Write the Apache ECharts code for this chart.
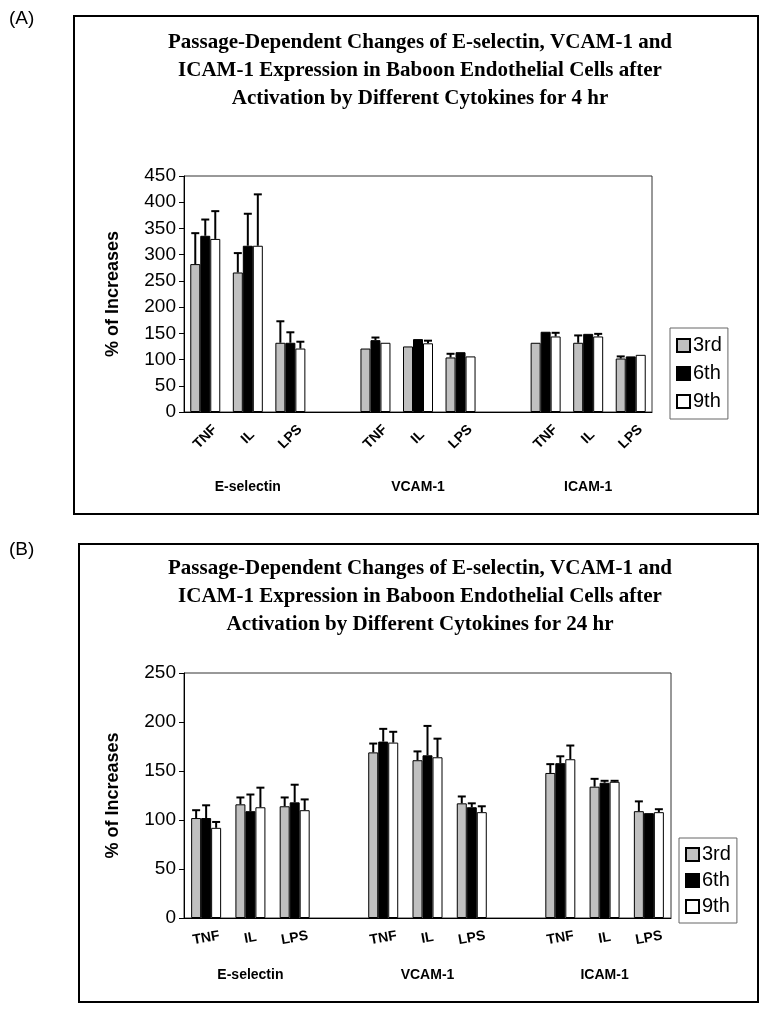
<!DOCTYPE html>
<html>
<head>
<meta charset="utf-8">
<script src="https://cdn.jsdelivr.net/npm/echarts@6/dist/echarts.min.js"></script>
<style>
html,body{margin:0;padding:0;background:#fff;}
#c{width:769px;height:1012px;}
</style>
</head>
<body>
<div id="c"></div>
<script>
// ---- data ----
const categories = ['TNF','IL','LPS','','TNF','IL','LPS','','TNF','IL','LPS'];
const geneLabels = ['','E-selectin','','','','VCAM-1','','','','ICAM-1',''];
const passages = ['3rd','6th','9th'];
const titleA = 'Passage-Dependent Changes of E-selectin, VCAM-1 and\nICAM-1 Expression in Baboon Endothelial Cells after\nActivation by Different Cytokines for 4 hr';
const titleB = 'Passage-Dependent Changes of E-selectin, VCAM-1 and\nICAM-1 Expression in Baboon Endothelial Cells after\nActivation by Different Cytokines for 24 hr';
const yName = '% of Increases';

// Panel A (4 hr): bar means and upper ends of error bars
const a3rd    = [282, 266, 132, null, 121, 125, 104, null, 132, 132, 102];
const a3rdUp  = [341, 303, 173, null, 121, 125, 111, null, 132, 146, 106];
const a6th    = [336, 317, 132, null, 137, 139, 114, null, 153, 149, 106];
const a6thUp  = [367, 378, 152, null, 142, 139, 114, null, 153, 149, 106];
const a9th    = [330, 317, 121, null, 132, 131, 106, null, 144, 144, 109];
const a9thUp  = [383, 415, 134, null, 132, 136, 106, null, 151, 149, 109];

// Panel B (24 hr)
const b3rd    = [102, 116, 114, null, 169, 161, 117, null, 148, 134, 109];
const b3rdUp  = [110, 123, 123, null, 178, 170, 124, null, 157, 142, 119];
const b6th    = [102, 109, 118, null, 180, 166, 113, null, 158, 138, 107];
const b6thUp  = [115, 126, 136, null, 193, 196, 117, null, 165, 140, 107];
const b9th    = [ 92, 113, 110, null, 179, 164, 108, null, 162, 139, 108];
const b9thUp  = [ 98, 133, 121, null, 190, 183, 114, null, 176, 140, 111];

// ---- styling ----
const fills = ['#c0c0c0', '#000000', '#ffffff'];
const BW = 10;

function barSeries(name, vals, k, axisIdx) {
  return {
    name: name, type: 'bar', xAxisIndex: axisIdx * 2, yAxisIndex: axisIdx,
    data: vals.map(v => v == null ? '-' : v),
    barWidth: BW, barGap: '0%',
    itemStyle: { color: fills[k], borderColor: '#000', borderWidth: 1 },
    emphasis: { disabled: true }, animation: false
  };
}
function errSeries(vals, ups, k, axisIdx) {
  const data = [];
  vals.forEach((v, i) => { if (v != null) data.push([i, v, ups[i]]); });
  const off = (k - 1) * BW;
  return {
    type: 'custom', xAxisIndex: axisIdx * 2, yAxisIndex: axisIdx, z: 5,
    data: data, encode: { x: 0, y: 1 }, animation: false, silent: true,
    renderItem: function (params, api) {
      const i = api.value(0), m = api.value(1), u = api.value(2);
      if (!(u > m)) return null;
      const p0 = api.coord([i, m]), p1 = api.coord([i, u]);
      const x = p0[0] + off;
      return { type: 'group', children: [
        { type: 'line', shape: { x1: x, y1: p0[1], x2: x, y2: p1[1] }, style: { stroke: '#000', lineWidth: 2 } },
        { type: 'line', shape: { x1: x - 4, y1: p1[1], x2: x + 4, y2: p1[1] }, style: { stroke: '#000', lineWidth: 2 } }
      ]};
    }
  };
}

const tickFont = { fontFamily: 'Liberation Sans', fontSize: 19, color: '#000' };
const catFont = { fontFamily: 'Liberation Sans', fontSize: 14, fontWeight: 'bold', color: '#000' };

function yAx(gridIndex, max) {
  return {
    type: 'value', gridIndex: gridIndex, min: 0, max: max, interval: 50,
    name: yName, nameLocation: 'middle', nameGap: 62, nameRotate: 90,
    nameTextStyle: { fontFamily: 'Liberation Sans', fontSize: 18, fontWeight: 'bold', color: '#000' },
    axisLine: { show: true, lineStyle: { color: '#000', width: 1 } },
    axisTick: { show: true, length: 5, lineStyle: { color: '#000' } },
    splitLine: { show: false },
    axisLabel: Object.assign({ margin: 8 }, tickFont)
  };
}
function xAxes(gridIndex, rot, margin, geneMargin) {
  return [{
    type: 'category', gridIndex: gridIndex, data: categories,
    axisLine: { show: true, lineStyle: { color: '#000', width: 1 } },
    axisTick: { show: false },
    axisLabel: Object.assign({ interval: 0, rotate: rot, align: 'center', verticalAlign: 'middle', margin: margin }, catFont)
  }, {
    type: 'category', gridIndex: gridIndex, data: geneLabels, position: 'bottom',
    axisLine: { show: false }, axisTick: { show: false },
    axisLabel: Object.assign({ interval: 0, margin: geneMargin }, catFont)
  }];
}
function legend(left, top, lh) {
  return {
    data: passages, orient: 'vertical', left: left, top: top,
    icon: 'rect', itemWidth: 13, itemHeight: 13, itemGap: 5,
    padding: [6, 6, 6, 6], borderColor: '#666', borderWidth: 1,
    textStyle: { fontFamily: 'Liberation Sans', fontSize: 20, color: '#000', lineHeight: lh, padding: [0, 0, 0, -2] },
    selectedMode: false
  };
}

const series = [];
[[a3rd, a3rdUp], [a6th, a6thUp], [a9th, a9thUp]].forEach((d, k) => series.push(barSeries(passages[k], d[0], k, 0)));
[[b3rd, b3rdUp], [b6th, b6thUp], [b9th, b9thUp]].forEach((d, k) => series.push(barSeries(passages[k], d[0], k, 1)));
[[a3rd, a3rdUp], [a6th, a6thUp], [a9th, a9thUp]].forEach((d, k) => series.push(errSeries(d[0], d[1], k, 0)));
[[b3rd, b3rdUp], [b6th, b6thUp], [b9th, b9thUp]].forEach((d, k) => series.push(errSeries(d[0], d[1], k, 1)));

const titleStyle = { fontFamily: 'Liberation Serif', fontSize: 21, fontWeight: 'bold', fill: '#000', textAlign: 'center', lineHeight: 28 };

const option = {
  backgroundColor: '#fff',
  animation: false,
  grid: [
    { left: 184, top: 176, width: 468, height: 236, show: true, borderColor: '#333', borderWidth: 1, backgroundColor: '#fff' },
    { left: 184, top: 673, width: 487, height: 245, show: true, borderColor: '#333', borderWidth: 1, backgroundColor: '#fff' }
  ],
  xAxis: xAxes(0, 45, 25, 68).concat(xAxes(1, 10, 20, 50)),
  yAxis: [yAx(0, 450), yAx(1, 250)],
  legend: [legend(670, 328, 23), legend(679, 838, 21)],
  series: series,
  graphic: [
    { type: 'rect', shape: { x: 74, y: 16, width: 684, height: 498 }, style: { fill: 'none', stroke: '#000', lineWidth: 2 }, z: -1 },
    { type: 'rect', shape: { x: 79, y: 544, width: 679, height: 458 }, style: { fill: 'none', stroke: '#000', lineWidth: 2 }, z: -1 },
    { type: 'text', x: 9, y: 9, style: { text: '(A)', fontFamily: 'Liberation Sans', fontSize: 19, fill: '#000' } },
    { type: 'text', x: 9, y: 540, style: { text: '(B)', fontFamily: 'Liberation Sans', fontSize: 19, fill: '#000' } },
    { type: 'text', x: 420, y: 29, style: Object.assign({ text: titleA }, titleStyle) },
    { type: 'text', x: 420, y: 555, style: Object.assign({ text: titleB }, titleStyle) }
  ]
};

const chart = echarts.init(document.getElementById('c'), null, { renderer: 'canvas' });
chart.setOption(option);
</script>
</body>
</html>
